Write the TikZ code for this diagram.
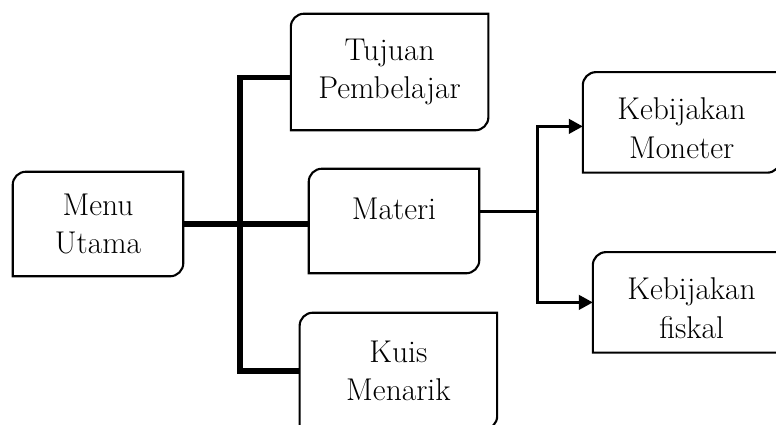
\documentclass[tikz,border=0pt]{standalone}
\usepackage{tikz}
\usetikzlibrary{positioning, arrows.meta}

\begin{document}
\begin{tikzpicture}[>={Triangle[length=0.35cm, width=0.36cm]},
		box/.style={inner sep=0pt, align=center, font=\fontsize{22.4}{27.5}\selectfont},
		outline/.style={line width=1.5pt},
		trunk/.style={line width=3.6pt},
		branch/.style={line width=2.2pt}]
		\path[use as bounding box, clip] (0,0) rectangle (19.4,-10.625);

		% Nodes
		\node[box, minimum width=4.25cm, minimum height=2.6cm] (menu) at (2.45,-5.6) {Menu\\Utama};
		\node[box, minimum width=4.925cm, minimum height=2.9cm] (tujuan) at (9.74,-1.8) {Tujuan\\Pembelajar};
		\node[box, minimum width=4.25cm, minimum height=2.6cm, text depth=0.6cm] (materi) at (9.85,-5.525) {Materi};
		\node[box, minimum width=4.925cm, minimum height=2.9cm] (kuis) at (9.96,-9.275) {Kuis\\Menarik};
		\node[box, minimum width=4.925cm, minimum height=2.5cm, text height=1.8cm] (moneter) at (17.04,-3.06) {Kebijakan\\Moneter};
		\node[box, minimum width=4.925cm, minimum height=2.5cm, text height=1.8cm] (fiskal) at (17.29,-7.56) {Kebijakan\\fiskal};

		% Box outlines (round top left and bottom right)
		\foreach \b in {menu,tujuan,materi,kuis,moneter,fiskal}
			\draw[outline] (\b.west) [rounded corners=0.33cm] -- (\b.north west) [sharp corners] -- (\b.north east) [rounded corners=0.33cm] -- (\b.south east) [sharp corners] -- (\b.south west) -- cycle;

		% Menu to sub menus
		\coordinate (hub) at (6,-5.6);
		\draw[trunk] (menu.east) -- (materi.west |- menu.east);
		\draw[trunk] (tujuan.west |- 0,-1.93) -| (hub) |- (kuis.west);

		% Materi to kebijakan
		\coordinate (split) at (13.43,-5.29);
		\draw[branch] (materi.east |- split) -- (split);
		\draw[branch, ->] (split) |- (moneter.west |- 0,-3.16);
		\draw[branch, ->] (split) |- (fiskal.west);
	\end{tikzpicture}
\end{document}
